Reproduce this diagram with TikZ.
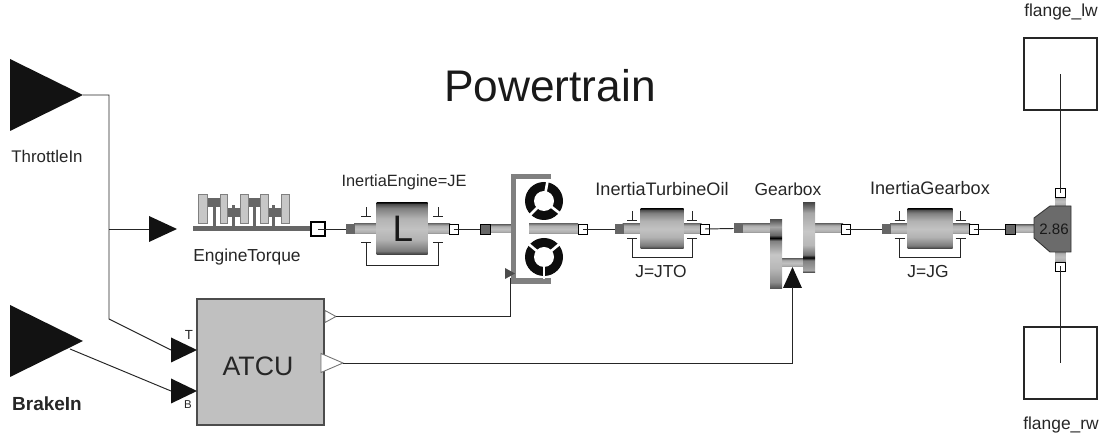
\documentclass[tikz,border=0pt]{standalone}
\usepackage{fontspec}
\setmainfont{Liberation Sans}
\usetikzlibrary{calc, shapes.geometric}

% Banded shadings for the rotating parts
\pgfdeclareverticalshading{gearLeft}{100bp}{color(0bp)=(black!70); color(25bp)=(black!70); color(30bp)=(black!45); color(40bp)=(black!28); color(50bp)=(black!22); color(60bp)=(black!50); color(62bp)=(black); color(64bp)=(black!60); color(70bp)=(black!35); color(75bp)=(black!65); color(100bp)=(black!65)}
\pgfdeclareverticalshading{gearRight}{100bp}{color(0bp)=(black!85); color(25bp)=(black!85); color(27bp)=(black!35); color(34bp)=(black!50); color(36bp)=(black); color(38bp)=(black!55); color(45bp)=(black!28); color(55bp)=(black!22); color(68bp)=(black!35); color(75bp)=(black!70); color(100bp)=(black!70)}
\pgfdeclareverticalshading{drumBands}{100bp}{color(0bp)=(black!80); color(25bp)=(black!80); color(29bp)=(black!52); color(40bp)=(black!30); color(50bp)=(black!24); color(60bp)=(black!30); color(70bp)=(black!50); color(74bp)=(black!70); color(75bp)=(black!90); color(100bp)=(black!90)}
\pgfdeclareverticalshading{shaftBands}{100bp}{color(0bp)=(black!50); color(25bp)=(black!50); color(33bp)=(black!32); color(50bp)=(black!25); color(67bp)=(black!32); color(75bp)=(black!50); color(100bp)=(black!50)}

\tikzset{
    wire/.style={draw=black!85, line width=0.55pt},
    sized/.style 2 args={minimum width=(#1)*0.02cm, minimum height=(#2)*0.02cm, inner sep=0pt, outer sep=0pt},
    tip/.style 2 args={isosceles triangle, isosceles triangle stretches, sized={#1}{#2}, anchor=apex, fill=black!93},
    portDark/.style={sized={9}{10}, fill=black!60},
    portBoxed/.style={sized={10}{10}, fill=black!60, draw=black, line width=0.5pt},
    portWhite/.style={sized={9}{10}, fill=white, draw=black, line width=0.5pt},
    shaft/.style={shading=shaftBands},
    drum/.style={shading=drumBands},
    label/.style={font=\fontsize{9.9}{12}\selectfont, text=black!85, inner sep=0pt},
}

\begin{document}
\begin{tikzpicture}[x=0.02cm, y=-0.02cm]
    \useasboundingbox (0,0) rectangle (1103,438);

    \definecolor{boxColour}{HTML}{C0C0C0}
    \definecolor{bracketColour}{HTML}{808080}

    % Title and inputs
    \node[font=\fontsize{25.2}{30}\selectfont, text=black!90, inner sep=0pt] (title) at (550,86) {Powertrain};
    \node[tip={72}{73}] (throttleIn) at (83,95) {};
    \node[tip={72}{73}] (brakeIn) at (83,341) {};
    \node[label, font=\fontsize{9.6}{12}\selectfont] (lblThrottle) at (47,156) {ThrottleIn};
    \node[label, font=\fontsize{10.8}{12}\selectfont\bfseries] (lblBrake) at (47,404) {BrakeIn};

    % Free ends on the throttle and brake wires
    \coordinate (junction) at (109,229);
    \coordinate (bend) at (109,319);
    \coordinate (brakeOut) at (70,349);
    \coordinate (clutchWire) at (510.5,278);
    \coordinate (gearWire) at (792.5,287);

    % Control unit
    \node[sized={127}{126}, fill=boxColour, draw=black!70, line width=0.6pt] (atcu) at (260.5,362) {};
    \node[font=\fontsize{15.2}{18}\selectfont, text=black!85, inner sep=0pt] (lblAtcu) at (258,366) {ATCU};
    \node[tip={25}{26}] (inT) at (197,350) {};
    \node[tip={25}{26}] (inB) at (197,391) {};
    \node[font=\fontsize{7.5}{8}\selectfont, text=black!85, inner sep=0pt] (lblT) at (189,335) {T};
    \node[font=\fontsize{6.5}{7}\selectfont, text=black!85, inner sep=0pt] (lblB) at (188,405) {B};
    \node[tip={12}{11}, fill=white, draw=black!55, line width=0.5pt] (atcuOutA) at (336,316.5) {};
    \node[tip={19}{22}, fill=white, draw=black!55, line width=0.5pt] (atcuOutB) at (343,363) {};
    \node[tip={26}{28}] (engineIn) at (177,229) {};

    % Engine
    \node[sized={118}{5}, fill=black!60] (engineShaft) at (252,229) {};
    \foreach \x in {214,233,254,273}
        \fill[black!60] (\x-1.5,205) rectangle (\x+1.5,227);
    \foreach \x/\y in {213.5/202.5, 233.5/212.5, 254/202.5, 274.5/212.5}
        \fill[black!60] (\x-6.5,\y-4.5) rectangle (\x+6.5,\y+4.5);
    \foreach \x/\w in {202.5/4.5, 223.5/3.5, 244/4, 264/4, 285/4}
        \draw[fill=black!22, draw=black!50, line width=0.4pt] (\x-\w,194) rectangle (\x+\w,223);
    \node[sized={14}{14}, fill=white, draw=black, line width=0.6pt] (enginePort) at (318,229) {};
    \node[label] (lblEngine) at (247,257) {EngineTorque};

    % Inertias
    \foreach \n/\cx/\dw/\dh/\pw/\tk/\a/\b in {JE/402/51/52/56/36/13/36, JTO/662/43/40/47.5/30/9/28, JG/930/45/40/48/30.5/9/28} {
        \node[sized={2*\pw-16}{10}, shaft] (\n shaft) at (\cx,229) {};
        \node[sized={\dw}{\dh}, drum] (\n drum) at (\cx,229) {};
        \node[portDark] (\n in) at (\cx-\pw+4.5,229) {};
        \node[portWhite] (\n out) at (\cx+\pw-4.5,229) {};
        % Bearing marks and the bracket under the drum
        \draw[wire] (\cx-\tk-5,229-\a) -- (\cx-\tk+5,229-\a) (\cx-\tk,229-\a) -- (\cx-\tk,229-\a-9);
        \draw[wire] (\cx+\tk-5,229-\a) -- (\cx+\tk+5,229-\a) (\cx+\tk,229-\a) -- (\cx+\tk,229-\a-9);
        \draw[wire] (\cx-\tk-5,229+\a) -- (\cx-\tk+5,229+\a) (\cx+\tk-5,229+\a) -- (\cx+\tk+5,229+\a);
        \draw[wire] (\cx-\tk,229+\a) -- (\cx-\tk,229+\b) -- (\cx+\tk,229+\b) -- (\cx+\tk,229+\a);
    }
    \node[font=\fontsize{21}{24}\selectfont, text=black!90, inner sep=0pt] (lblL) at (403,229) {L};
    \node[label, font=\fontsize{9.3}{12}\selectfont] (lblJE) at (404,182) {InertiaEngine=JE};
    \node[label, font=\fontsize{10.3}{12}\selectfont] (lblJTO) at (662,189) {InertiaTurbineOil};
    \node[label] (lblJTOval) at (661,272) {J=JTO};
    \node[label, font=\fontsize{10.3}{12}\selectfont] (lblJG) at (930,188) {InertiaGearbox};
    \node[label] (lblJGval) at (928,272) {J=JG};

    % Torque converter
    \node[sized={22}{8}, shaft] (clutchShaftL) at (500,229) {};
    \node[sized={49}{10}, shaft] (clutchShaftR) at (553.5,229) {};
    \node[portBoxed] (clutchIn) at (485,229) {};
    \node[portWhite] (clutchOut) at (583,229) {};
    \draw[bracketColour, line width=2.9pt] (551,176.5) -- (513.5,176.5) -- (513.5,281) -- (551,281);
    \coordinate (ringTop) at (544,201);
    \coordinate (ringBottom) at (544,257);
    \foreach \c/\p/\q/\r in {ringTop/-80/38/135, ringBottom/90/-40/-140} {
        \fill[black!95] (\c) circle[radius=19];
        \fill[white] (\c) circle[radius=10];
        \foreach \ang in {\p,\q,\r}
            \draw[white, line width=1.5pt] (\c) -- ($(\c)+(\ang:22)$);
    }
    \node[tip={11}{10}, fill=black!70] (clutchPin) at (515,273.5) {};

    % Gearbox
    \node[sized={37}{9}, shaft] (gearShaftL) at (757,228.5) {};
    \node[sized={30}{9}, shaft] (gearShaftR) at (828,228.5) {};
    \node[sized={24}{8}, shaft] (gearBridge) at (792.5,263) {};
    \node[sized={12}{69}, shading=gearLeft] (gearLeft) at (776,254.5) {};
    \node[sized={12}{70}, shading=gearRight] (gearRight) at (809,238) {};
    \node[portDark] (gearIn) at (738,228.5) {};
    \node[portWhite] (gearOut) at (846,229) {};
    \node[tip={19}{21}, shape border rotate=90] (gearPin) at (792.5,267) {};
    \node[label] (lblGear) at (788,189) {Gearbox};

    % Differential
    \node[sized={21}{8}, shaft] (diffShaft) at (1025,229) {};
    \node[sized={10}{10}, shaft] (diffShaftUp) at (1060.5,201.5) {};
    \node[sized={10}{11}, shaft] (diffShaftDown) at (1060.5,257) {};
    \draw[fill=black!58, draw=black!80, line width=0.5pt] (1034,218) -- (1050,206) -- (1071,206) -- (1071,252) -- (1050,252) -- (1034,238) -- cycle;
    \node[font=\fontsize{8.6}{10}\selectfont, text=black!90, inner sep=0pt] (lblRatio) at (1054,229) {2.86};
    \node[portBoxed] (diffIn) at (1010,229) {};
    \node[sized={10}{9}, fill=white, draw=black, line width=0.5pt] (diffUp) at (1060.5,193) {};
    \node[sized={10}{9}, fill=white, draw=black, line width=0.5pt] (diffDown) at (1060.5,266.5) {};

    % Wheels
    \node[sized={73}{72}, draw=black!85, line width=0.6pt] (flangeLw) at (1060.5,74) {};
    \node[sized={73}{72}, draw=black!85, line width=0.6pt] (flangeRw) at (1060.5,363) {};
    \node[label] (lblLw) at (1061,12) {flange\_lw};
    \node[label] (lblRw) at (1061,425) {flange\_rw};

    % Draw the connections
    \draw[wire] (throttleIn.apex) -| (bend) -- (inT.west);
    \draw[wire] (brakeOut) -- (inB.west);
    \draw[wire] (junction) -- (engineIn.west);
    \draw[wire] (enginePort.center) -- (JEin.west);
    \draw[wire] (JEout.center) -- (clutchIn.west);
    \draw[wire] (clutchOut.center) -- (JTOin.west);
    \draw[wire] (JTOout.center) -- (gearIn.west);
    \draw[wire] (gearOut.center) -- (JGin.west);
    \draw[wire] (JGout.center) -- (diffIn.west);
    \draw[wire] (diffUp.center) -- (flangeLw.center);
    \draw[wire] (diffDown.center) -- (flangeRw.center);
    \draw[wire] (atcuOutA.apex) -| (clutchWire);
    \draw[wire] (atcuOutB.apex) -| (gearWire);
\end{tikzpicture}
\end{document}
